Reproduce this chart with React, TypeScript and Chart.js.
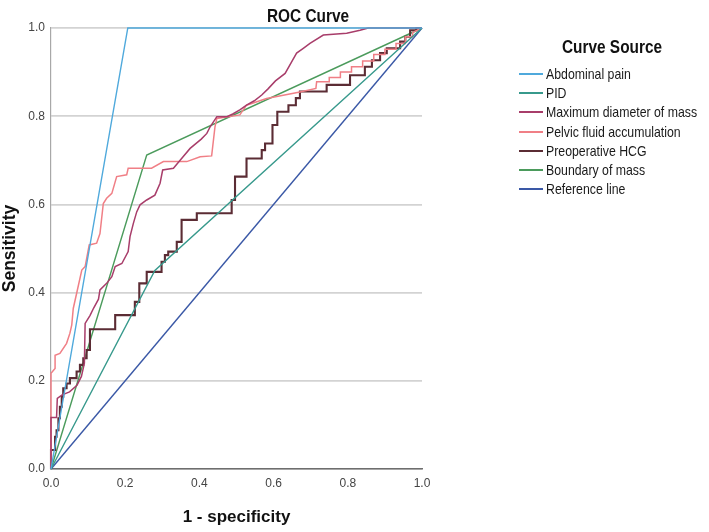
import React, { useEffect, useRef } from "react";
import { Chart, registerables } from "chart.js";

Chart.register(...registerables);

// Axis ticks (shared by both axes)
const axisTickLabels = ["0.0", "0.2", "0.4", "0.6", "0.8", "1.0"];

// Curve names and colours, in legend order
const curveNames = [
  "Abdominal pain",
  "PID",
  "Maximum diameter of mass",
  "Pelvic fluid accumulation",
  "Preoperative HCG",
  "Boundary of mass",
  "Reference line",
];
const curveColors = ["#4fa9dc", "#37998c", "#a83d6a", "#f07f86", "#5b2c34", "#4b9b5c", "#3a58a6"];
const curveWidths = [1.4, 1.4, 1.5, 1.5, 2.1, 1.4, 1.4];

// ROC coordinates: 1 - specificity (fpr) and sensitivity (tpr)
const abdominalPainFpr = [0, 0.207, 1];
const abdominalPainTpr = [0, 1, 1];

const pidFpr = [0, 0.28, 1];
const pidTpr = [0, 0.45, 1];

const maxDiameterFpr = [
  0, 0, 0.015, 0.017, 0.03, 0.05, 0.07, 0.082, 0.09, 0.092, 0.105, 0.115, 0.128, 0.132, 0.15, 0.164,
  0.173, 0.191, 0.208, 0.213, 0.222, 0.231, 0.24, 0.258, 0.28, 0.294, 0.301, 0.33, 0.352, 0.375,
  0.405, 0.42, 0.429, 0.447, 0.474, 0.49, 0.51, 0.527, 0.548, 0.568, 0.585, 0.605, 0.631, 0.649,
  0.662, 0.68, 0.698, 0.734, 0.797, 0.833, 0.855, 1,
];
const maxDiameterTpr = [
  0, 0.117, 0.117, 0.16, 0.168, 0.175, 0.19, 0.21, 0.24, 0.33, 0.348, 0.365, 0.385, 0.406, 0.421,
  0.436, 0.459, 0.466, 0.493, 0.527, 0.557, 0.583, 0.599, 0.61, 0.621, 0.648, 0.678, 0.682, 0.704,
  0.727, 0.748, 0.761, 0.776, 0.799, 0.799, 0.805, 0.815, 0.825, 0.835, 0.848, 0.862, 0.88, 0.897,
  0.924, 0.943, 0.954, 0.965, 0.984, 0.988, 0.995, 1, 1,
];

const pelvicFluidFpr = [
  0, 0, 0.011, 0.011, 0.024, 0.042, 0.051, 0.056, 0.06, 0.069, 0.083, 0.092, 0.103, 0.123, 0.132,
  0.141, 0.15, 0.164, 0.177, 0.204, 0.208, 0.271, 0.303, 0.366, 0.402, 0.433, 0.442, 0.447, 0.509,
  0.527, 0.581, 0.671, 0.714, 0.716, 0.75, 0.75, 0.78, 0.78, 0.81, 0.81, 0.84, 0.84, 0.87, 0.87,
  0.9, 0.9, 0.93, 0.93, 0.955, 0.955, 0.975, 0.975, 1,
];
const pelvicFluidTpr = [
  0, 0.217, 0.228, 0.258, 0.262, 0.285, 0.308, 0.327, 0.364, 0.398, 0.451, 0.459, 0.508, 0.512,
  0.534, 0.602, 0.614, 0.625, 0.663, 0.667, 0.682, 0.682, 0.697, 0.697, 0.708, 0.71, 0.776, 0.795,
  0.803, 0.825, 0.84, 0.855, 0.863, 0.878, 0.878, 0.888, 0.888, 0.9, 0.9, 0.912, 0.912, 0.925,
  0.925, 0.94, 0.94, 0.952, 0.952, 0.965, 0.965, 0.98, 0.98, 0.99, 1,
];

const hcgFpr = [
  0, 0, 0.011, 0.011, 0.015, 0.015, 0.02, 0.02, 0.024, 0.024, 0.029, 0.029, 0.033, 0.033, 0.042,
  0.042, 0.051, 0.051, 0.069, 0.069, 0.078, 0.078, 0.087, 0.087, 0.096, 0.096, 0.105, 0.105, 0.173,
  0.173, 0.226, 0.226, 0.238, 0.238, 0.258, 0.258, 0.298, 0.298, 0.307, 0.307, 0.316, 0.316, 0.339,
  0.339, 0.352, 0.352, 0.393, 0.393, 0.487, 0.487, 0.496, 0.496, 0.527, 0.527, 0.568, 0.568, 0.577,
  0.577, 0.597, 0.597, 0.61, 0.61, 0.64, 0.64, 0.66, 0.66, 0.671, 0.671, 0.743, 0.743, 0.806, 0.806,
  0.846, 0.846, 0.865, 0.865, 0.887, 0.887, 0.905, 0.905, 0.941, 0.941, 0.955, 0.955, 0.968, 0.968,
  0.985, 0.985, 1,
];
const hcgTpr = [
  0, 0.043, 0.043, 0.073, 0.073, 0.088, 0.088, 0.115, 0.115, 0.141, 0.141, 0.164, 0.164, 0.183,
  0.183, 0.194, 0.194, 0.206, 0.206, 0.221, 0.221, 0.236, 0.236, 0.251, 0.251, 0.27, 0.27, 0.317,
  0.317, 0.349, 0.349, 0.379, 0.379, 0.421, 0.421, 0.447, 0.447, 0.47, 0.47, 0.485, 0.485, 0.493,
  0.493, 0.515, 0.515, 0.565, 0.565, 0.58, 0.58, 0.61, 0.61, 0.663, 0.663, 0.704, 0.704, 0.723,
  0.723, 0.738, 0.738, 0.78, 0.78, 0.81, 0.81, 0.825, 0.825, 0.841, 0.841, 0.856, 0.856, 0.871,
  0.871, 0.893, 0.893, 0.912, 0.912, 0.927, 0.927, 0.943, 0.943, 0.954, 0.954, 0.969, 0.969, 0.98,
  0.98, 0.995, 0.995, 1, 1,
];

const boundaryFpr = [0, 0.258, 1];
const boundaryTpr = [0, 0.712, 1];

const referenceFpr = [0, 1];
const referenceTpr = [0, 1];

const curveFpr = [abdominalPainFpr, pidFpr, maxDiameterFpr, pelvicFluidFpr, hcgFpr, boundaryFpr, referenceFpr];
const curveTpr = [abdominalPainTpr, pidTpr, maxDiameterTpr, pelvicFluidTpr, hcgTpr, boundaryTpr, referenceTpr];

const FONT = "'Liberation Sans', Arial, Helvetica, sans-serif";

function toPoints(xs: number[], ys: number[]) {
  return xs.map((x, i) => ({ x, y: ys[i] }));
}

export default function App() {
  const canvasRef = useRef<HTMLCanvasElement | null>(null);

  useEffect(() => {
    if (!canvasRef.current) return;
    const datasets = curveNames.map((name, i) => ({
      label: name,
      data: toPoints(curveFpr[i], curveTpr[i]),
      borderColor: curveColors[i],
      backgroundColor: curveColors[i],
      borderWidth: curveWidths[i],
      pointRadius: 0,
      tension: 0,
      fill: false,
      clip: false as const,
    }));

    const chart = new Chart(canvasRef.current, {
      type: "line",
      data: { datasets },
      options: {
        animation: false,
        responsive: false,
        parsing: false,
        layout: { padding: { top: 28, right: 287, left: 0, bottom: 0 } },
        plugins: {
          legend: { display: false },
          tooltip: { enabled: false },
          title: { display: false },
        },
        scales: {
          x: {
            type: "linear",
            min: 0,
            max: 1,
            afterFit: (scale: any) => {
              scale.height = 63;
            },
            grid: { display: false, drawTicks: false },
            border: { display: true, color: "#6e6e6e", width: 1.6 },
            ticks: {
              stepSize: 0.2,
              padding: 7,
              color: "#444",
              font: { family: FONT, size: 12 },
              callback: (_v: any, i: number) => axisTickLabels[i],
            },
            title: {
              display: true,
              text: "1 - specificity",
              color: "#111",
              font: { family: FONT, size: 17, weight: "bold", lineHeight: 1 },
              padding: { top: 0, bottom: 6 },
            },
          },
          y: {
            type: "linear",
            min: 0,
            max: 1,
            afterFit: (scale: any) => {
              scale.width = 51;
            },
            grid: { color: "#d3d3d3", lineWidth: 1.8, drawTicks: false },
            border: { display: true, color: "#a8a8a8", width: 1.2 },
            ticks: {
              stepSize: 0.2,
              padding: 6,
              color: "#444",
              font: { family: FONT, size: 12 },
              callback: (_v: any, i: number) => axisTickLabels[i],
            },
            title: {
              display: true,
              text: "Sensitivity",
              color: "#111",
              font: { family: FONT, size: 17.5, weight: "bold", lineHeight: 1 },
              padding: { top: 1.5, bottom: 0 },
            },
          },
        },
      },
    });
    return () => chart.destroy();
  }, []);

  const headingStyle: React.CSSProperties = {
    position: "absolute",
    fontFamily: FONT,
    fontWeight: "bold",
    fontSize: 17.5,
    color: "#111",
    whiteSpace: "nowrap",
    lineHeight: "20px",
    transform: "translateX(-50%) scaleX(0.88)",
  };

  return (
    <div style={{ position: "absolute", left: 0, top: 0, width: 709, height: 532, background: "#fff" }}>
      <canvas ref={canvasRef} width={709} height={532} style={{ position: "absolute", left: 0, top: 0 }} />
      <div style={{ ...headingStyle, left: 308, top: 6 }}>ROC Curve</div>
      <div style={{ ...headingStyle, left: 612, top: 37 }}>Curve Source</div>
      {curveNames.map((name, i) => (
        <div
          key={name}
          style={{ position: "absolute", left: 519, top: 64 + i * 19.2, height: 19, width: 190 }}
        >
          <div
            style={{
              position: "absolute",
              left: 0,
              top: 9,
              width: 24,
              height: 2,
              background: curveColors[i],
            }}
          />
          <div
            style={{
              position: "absolute",
              left: 27,
              top: 0,
              fontFamily: FONT,
              fontSize: 15,
              lineHeight: "19px",
              color: "#1a1a1a",
              whiteSpace: "nowrap",
              transform: "scaleX(0.82)",
              transformOrigin: "left center",
            }}
          >
            {name}
          </div>
        </div>
      ))}
    </div>
  );
}
